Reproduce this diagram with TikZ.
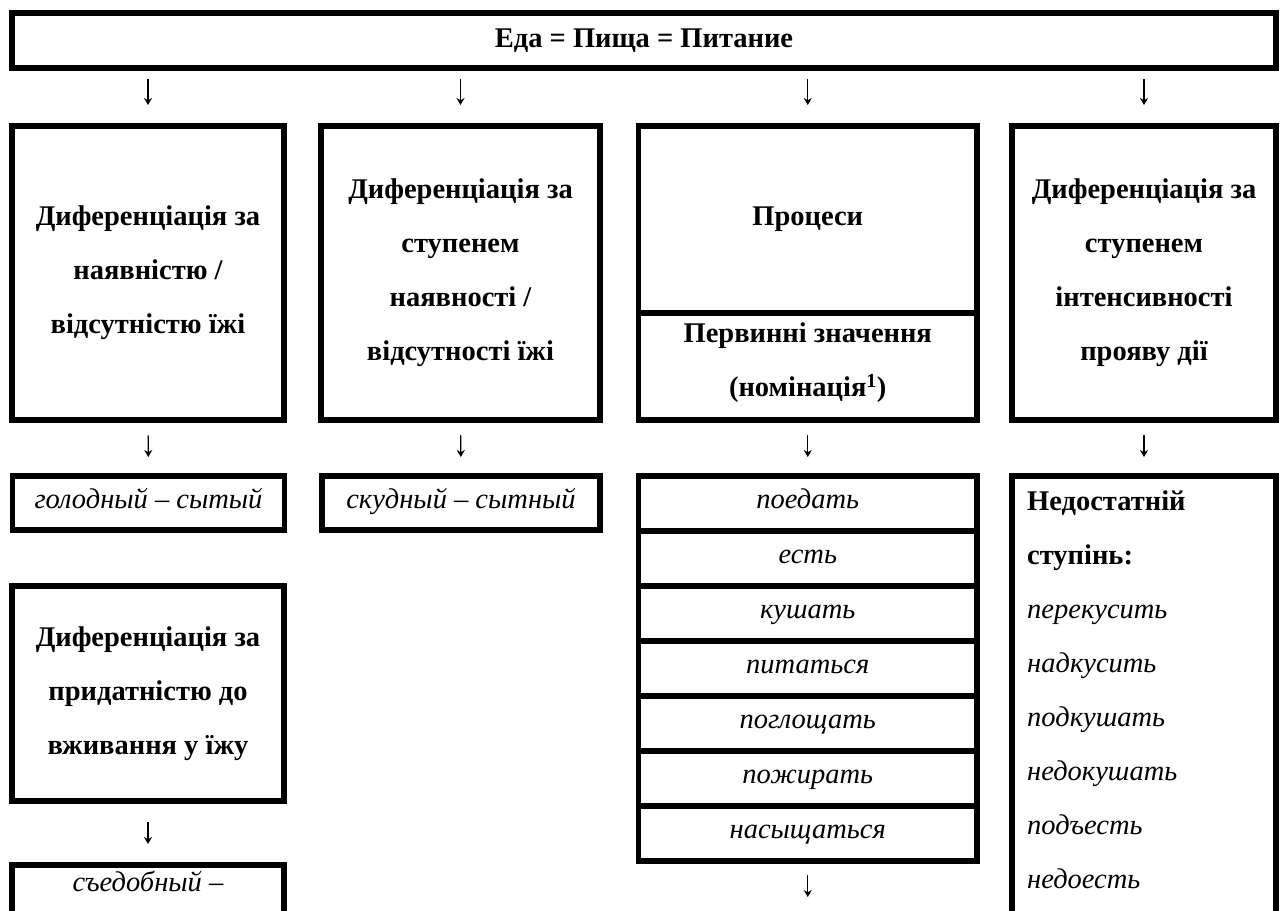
\documentclass[tikz,border=0pt]{standalone}
\usepackage{fontspec}
\setmainfont{Liberation Serif}
\usetikzlibrary{arrows.meta}
\begin{document}
\begin{tikzpicture}[x=1pt,y=-1pt,
  box/.style={draw, line width=5.5pt, inner sep=0pt, outer sep=0pt, rectangle},
  hd/.style={font=\fontsize{28.5}{54}\selectfont\bfseries, align=center, inner sep=0pt},
  it/.style={font=\fontsize{28.5}{54}\selectfont\itshape, inner sep=0pt},
  bl/.style={font=\fontsize{28.5}{54}\selectfont\bfseries, inner sep=0pt},
  conn/.style={-{Stealth[length=7pt,width=8pt]}, line width=1.2pt}]
\useasboundingbox (0,0) rectangle (1284,910);
\fill[white] (0,0) rectangle (1284,910);
% top box
\node[box, minimum width=1264pt, minimum height=55pt] (top) at (644,40.5) {};
\node[hd, anchor=base] (toptxt) at ([yshift=-7pt]top.center) {Еда = Пища = Питание};
% row 2
\node[box, minimum width=272pt, minimum height=294pt] (b1) at (148,273) {};
\node[box, minimum width=279pt, minimum height=294pt] (b2) at (460.5,273) {};
\node[box, minimum width=338.5pt, minimum height=187pt] (b3a) at (807.75,219.5) {};
\node[box, minimum width=338.5pt, minimum height=107pt] (b3b) at (807.75,366.5) {};
\node[box, minimum width=264pt, minimum height=294pt] (b4) at (1144,273) {};
\node[hd] (b1t) at (b1) {Диференціація за\\наявністю /\\відсутністю їжі};
\node[hd] (b2t) at (b2) {Диференціація за\\ступенем\\наявності /\\відсутності їжі};
\node[hd] (b3at) at (b3a) {Процеси};
\node[hd] (b3bt) at ([yshift=4pt]b3b.center) {Первинні значення\\(номінація\textsuperscript{1})};
\node[hd] (b4t) at (b4) {Диференціація за\\ступенем\\інтенсивності\\прояву дії};
% row 3
\node[box, minimum width=272pt, minimum height=54pt] (s1) at (148.5,503) {};
\node[it, anchor=base] (s1t) at ([yshift=-5pt]s1.center) {голодный – сытый};
\node[box, minimum width=278pt, minimum height=54pt] (s2) at (461,503) {};
\node[it, anchor=base] (s2t) at ([yshift=-5pt]s2.center) {скудный – сытный};
\foreach \k/\w in {1/поедать,2/есть,3/кушать,4/питаться,5/поглощать,6/пожирать,7/насыщаться}{
  \node[box, minimum width=338.5pt, minimum height=55pt] (l\k) at (807.75,{503.5+55*(\k-1)}) {};
  \node[it, anchor=base] (l\k t) at ([yshift=-5pt]l\k.center) {\w};
}
% list box 4 (open at the bottom)
\coordinate (l4top) at (1144,476);
\draw[line width=5.5pt] (1012,920) -- (1012,476) -- (1276,476) -- (1276,920);
\node[bl, anchor=base west] (m1) at (1027,510) {Недостатній};
\node[bl, anchor=base west] (m2) at (1027,564) {ступінь:};
\foreach \k/\w in {3/перекусить,4/надкусить,5/подкушать,6/недокушать,7/подъесть,8/недоесть}{
  \node[it, anchor=base west] (m\k) at (1027,{510+54*(\k-1)}) {\w};
}
% left lower boxes
\node[box, minimum width=272pt, minimum height=215pt] (lb) at (148,693.5) {};
\node[hd] (lbt) at (lb) {Диференціація за\\придатністю до\\вживання у їжу};
\coordinate (sbtop) at (148,865);
\draw[line width=5.5pt] (12,920) -- (12,865) -- (284,865) -- (284,920);
\node[it, anchor=base] (sbt) at (148,891) {съедобный –};
% connectors
\foreach \b in {b1,b2,b3a,b4}{
  \draw[conn, shorten <=11pt, shorten >=21pt] (top.south -| \b.north) -- (\b.north);
}
\draw[conn, shorten <=15pt, shorten >=19pt] (b1.south) -- (s1.north);
\draw[conn, shorten <=15pt, shorten >=19pt] (b2.south) -- (s2.north);
\draw[conn, shorten <=15pt, shorten >=19pt] (b3b.south) -- (l1.north);
\draw[conn, shorten <=15pt, shorten >=19pt] (b4.south) -- (l4top);
\draw[conn, shorten <=21pt, shorten >=21pt] (lb.south) -- (sbtop);
\coordinate (endc) at (807.75,897);
\draw[conn, shorten <=14pt] (l7.south) -- (endc);
\end{tikzpicture}
\end{document}
